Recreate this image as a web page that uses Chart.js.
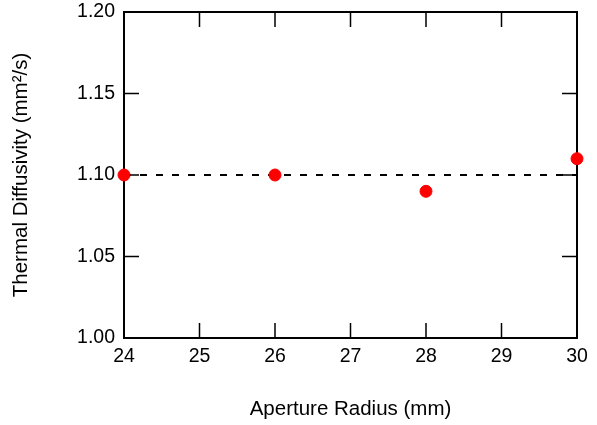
<!DOCTYPE html>
<html>
<head>
<meta charset="utf-8">
<script src="https://cdn.jsdelivr.net/npm/chart.js@4/dist/chart.umd.min.js"></script>
<style>
  body { margin: 0; background: #fff; }
  #wrap { width: 597px; height: 425px; }
</style>
</head>
<body>
<div id="wrap"><canvas id="chart" width="597" height="425"></canvas></div>
<script>
// aperture radius (mm) vs thermal diffusivity (mm^2/s)
const radii = [24, 26, 28, 30];
const diffusivity = [1.10, 1.10, 1.09, 1.11];
const refLevel = 1.10;
const xTicks = [24, 25, 26, 27, 28, 29, 30];
const yTicks = [1.00, 1.05, 1.10, 1.15, 1.20];

const FONT = 'Arial, "Liberation Sans", Helvetica, sans-serif';

// box frame + inward ticks on all four sides
const framePlugin = {
    id: 'frame',
    beforeDatasetsDraw(chart) {
        const { ctx, chartArea: a, scales } = chart;
        const len = 15;
        ctx.save();
        ctx.strokeStyle = '#000';
        ctx.lineWidth = 1.5;
        ctx.beginPath();
        xTicks.forEach(v => {
            const px = scales.x.getPixelForValue(v);
            ctx.moveTo(px, a.bottom); ctx.lineTo(px, a.bottom - len);
            ctx.moveTo(px, a.top); ctx.lineTo(px, a.top + len);
        });
        yTicks.forEach(v => {
            const py = scales.y.getPixelForValue(v);
            ctx.moveTo(a.left, py); ctx.lineTo(a.left + len, py);
            ctx.moveTo(a.right, py); ctx.lineTo(a.right - len, py);
        });
        ctx.stroke();
        ctx.lineWidth = 2;
        ctx.strokeRect(a.left, a.top, a.right - a.left, a.bottom - a.top);
        ctx.restore();
    }
};

new Chart(document.getElementById('chart'), {
    type: 'scatter',
    data: {
        datasets: [
            {
                label: 'data',
                data: radii.map((r, i) => ({ x: r, y: diffusivity[i] })),
                backgroundColor: '#ff0000',
                borderColor: '#ff0000',
                pointRadius: 6,
                pointHoverRadius: 6,
                showLine: false,
                clip: false,
                order: 0
            },
            {
                label: 'mean',
                data: [{ x: xTicks[0], y: refLevel }, { x: xTicks[xTicks.length - 1], y: refLevel }],
                showLine: true,
                borderColor: '#000',
                borderWidth: 2,
                borderDash: [7, 9],
                pointRadius: 0,
                order: 1
            }
        ]
    },
    options: {
        responsive: false,
        animation: false,
        layout: { padding: { top: 12, right: 20, left: 0, bottom: 0 } },
        plugins: {
            legend: { display: false },
            tooltip: { enabled: false }
        },
        scales: {
            x: {
                type: 'linear',
                min: 24, max: 30,
                afterFit: s => { s.height = 87; s.paddingLeft = 0; s.paddingRight = 0; },
                afterBuildTicks: s => { s.ticks = xTicks.map(v => ({ value: v })); },
                grid: { display: false, drawTicks: false },
                border: { display: false },
                ticks: { color: '#000', padding: 7, font: { family: FONT, size: 19.5 } },
                title: {
                    display: true,
                    text: 'Aperture Radius (mm)',
                    color: '#000',
                    font: { family: FONT, size: 20.5 },
                    padding: { top: 0, bottom: 3 }
                }
            },
            y: {
                min: 1.0, max: 1.2,
                afterFit: s => { s.width = 124; s.paddingTop = 0; s.paddingBottom = 0; },
                afterBuildTicks: s => { s.ticks = yTicks.map(v => ({ value: v })); },
                grid: { display: false, drawTicks: false },
                border: { display: false },
                ticks: {
                    color: '#000', padding: 9, font: { family: FONT, size: 19.5 },
                    callback: v => Number(v).toFixed(2)
                },
                title: {
                    display: true,
                    text: 'Thermal Diffusivity (mm\u00B2/s)',
                    color: '#000',
                    font: { family: FONT, size: 20.5 },
                    padding: { top: 9, bottom: 0 }
                }
            }
        }
    },
    plugins: [framePlugin]
});
</script>
</body>
</html>
